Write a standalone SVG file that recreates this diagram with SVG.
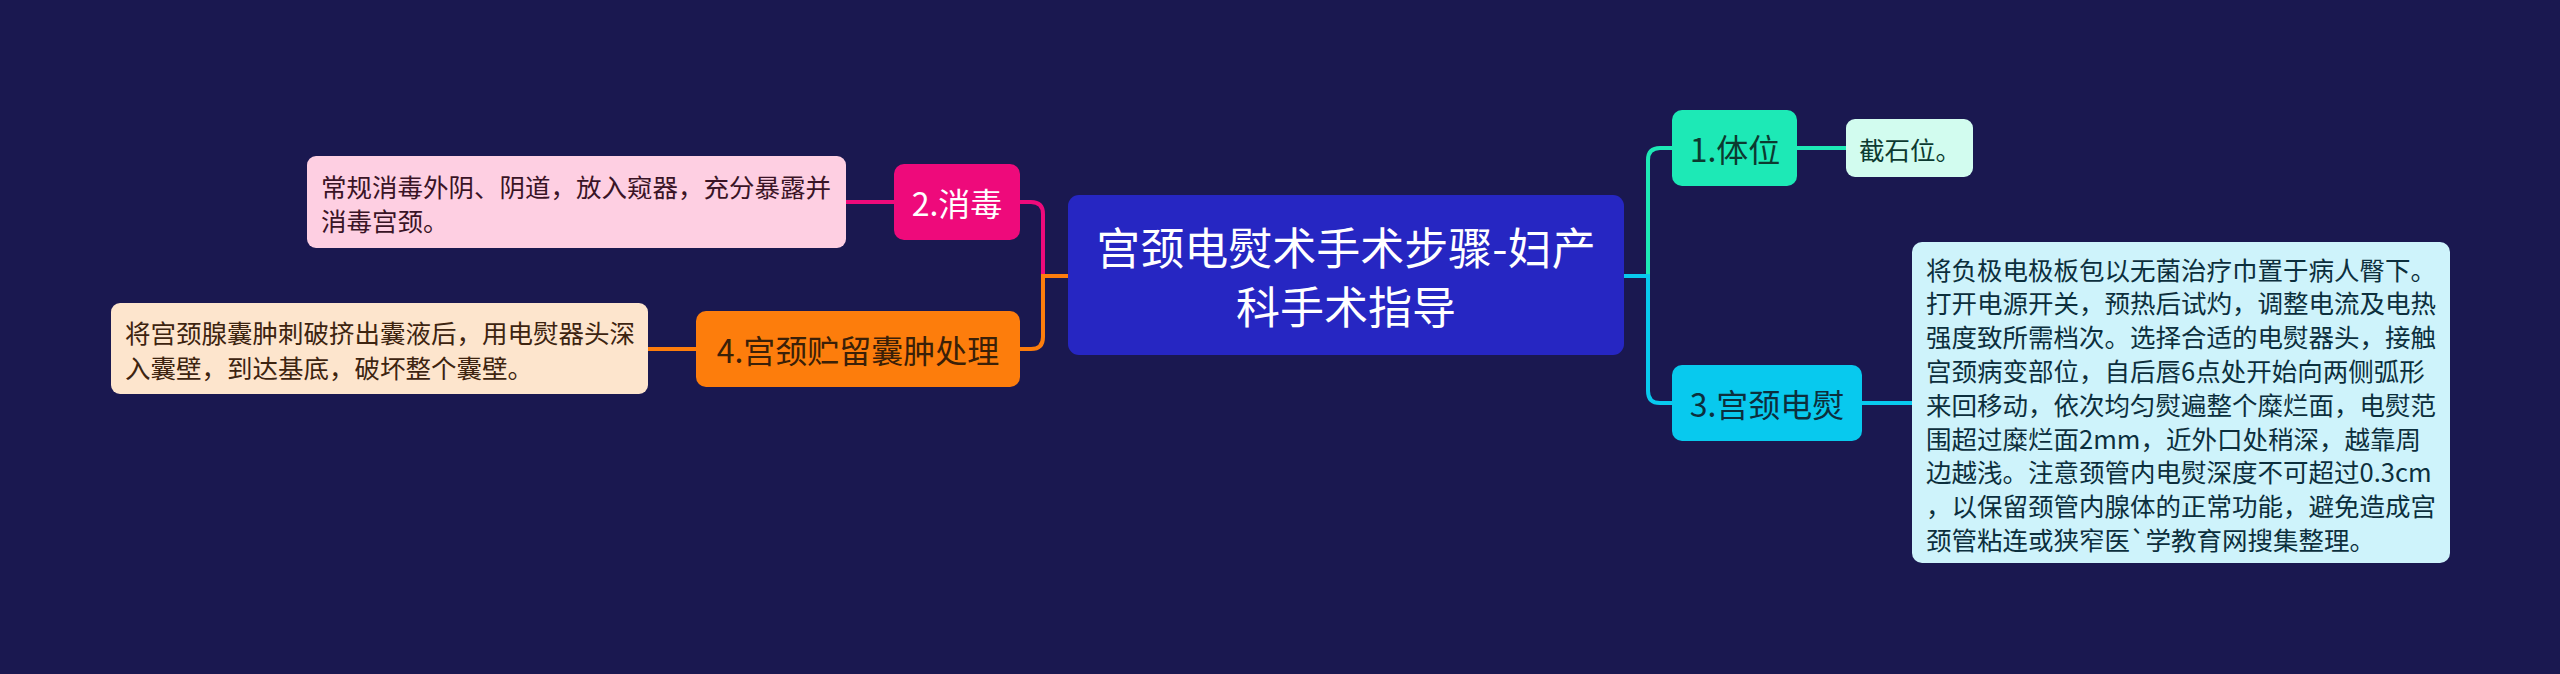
<svg xmlns="http://www.w3.org/2000/svg" width="2560" height="674" viewBox="0 0 2560 674">
<style>
text{font-family:"Noto Sans CJK SC","Noto Sans",sans-serif;dominant-baseline:central}
.root{font-size:44px;fill:#ffffff;text-anchor:middle}
.main{font-size:32px;text-anchor:middle}
.leaf{font-size:25.5px}
.conn{fill:none;stroke-width:4;stroke-linecap:round}
</style>
<rect width="2560" height="674" fill="#1a1850"/>
<g id="connectors">
<path class="conn" stroke="#ee0a7b" d="M1068,276 H1043 V214 Q1043,202 1031,202 H1020"/>
<path class="conn" stroke="#fd7d0c" d="M1068,276 H1043 V337 Q1043,349 1031,349 H1020"/>
<path class="conn" stroke="#ee0a7b" d="M846,202 H894"/>
<path class="conn" stroke="#fd7d0c" d="M648,349 H696"/>
<path class="conn" stroke="#1de9b6" d="M1624,276 H1648 V160 Q1648,148 1660,148 H1672"/>
<path class="conn" stroke="#08c9ee" d="M1624,276 H1648 V391 Q1648,403 1660,403 H1672"/>
<path class="conn" stroke="#1de9b6" d="M1797,148 H1846"/>
<path class="conn" stroke="#08c9ee" d="M1862,403 H1912"/>
</g>
<g id="root">
<rect x="1068" y="195" width="556" height="160" rx="11" fill="#2626c2"/>
<text class="root" x="1346" y="246">宫颈电熨术手术步骤-妇产</text>
<text class="root" x="1346" y="305">科手术指导</text>
</g>
<g id="n2">
<rect x="894" y="164" width="126" height="76" rx="10" fill="#ee0a7b"/>
<text class="main" x="957" y="202" fill="#ffffff">2.消毒</text>
</g>
<g id="n2leaf">
<rect x="307" y="156" width="539" height="92" rx="9" fill="#fecfe2"/>
<text class="leaf" x="321" y="185" fill="#3a1426">常规消毒外阴、阴道，放入窥器，充分暴露并</text>
<text class="leaf" x="321" y="219" fill="#3a1426">消毒宫颈。</text>
</g>
<g id="n4">
<rect x="696" y="311" width="324" height="76" rx="10" fill="#fd7d0c"/>
<text class="main" x="858" y="349" fill="#3a2008">4.宫颈贮留囊肿处理</text>
</g>
<g id="n4leaf">
<rect x="111" y="303" width="537" height="91" rx="9" fill="#fde5cd"/>
<text class="leaf" x="125" y="331" fill="#3d2410">将宫颈腺囊肿刺破挤出囊液后，用电熨器头深</text>
<text class="leaf" x="125" y="366" fill="#3d2410">入囊壁，到达基底，破坏整个囊壁。</text>
</g>
<g id="n1">
<rect x="1672" y="110" width="125" height="76" rx="10" fill="#1de9b6"/>
<text class="main" x="1735" y="148" fill="#0c3a30">1.体位</text>
</g>
<g id="n1leaf">
<rect x="1846" y="119" width="127" height="58" rx="9" fill="#d2fcef"/>
<text class="leaf" x="1859" y="148" fill="#0c3a30">截石位。</text>
</g>
<g id="n3">
<rect x="1672" y="365" width="190" height="76" rx="10" fill="#08c9ee"/>
<text class="main" x="1767" y="403" fill="#0c2f3d">3.宫颈电熨</text>
</g>
<g id="n3leaf" fill="#0c2f3d">
<rect x="1912" y="242" width="538" height="321" rx="10" fill="#cef3fb"/>
<text class="leaf" x="1926" y="268">将负极电极板包以无菌治疗巾置于病人臀下。</text>
<text class="leaf" x="1926" y="301.8">打开电源开关，预热后试灼，调整电流及电热</text>
<text class="leaf" x="1926" y="335.6">强度致所需档次。选择合适的电熨器头，接触</text>
<text class="leaf" x="1926" y="369.4">宫颈病变部位，自后唇6点处开始向两侧弧形</text>
<text class="leaf" x="1926" y="403.2">来回移动，依次均匀熨遍整个糜烂面，电熨范</text>
<text class="leaf" x="1926" y="437">围超过糜烂面2mm，近外口处稍深，越靠周</text>
<text class="leaf" x="1926" y="470.8">边越浅。注意颈管内电熨深度不可超过0.3cm</text>
<text class="leaf" x="1926" y="504.6">，以保留颈管内腺体的正常功能，避免造成宫</text>
<text class="leaf" x="1926" y="538.4">颈管粘连或狭窄医`学教育网搜集整理。</text>
</g>
</svg>
